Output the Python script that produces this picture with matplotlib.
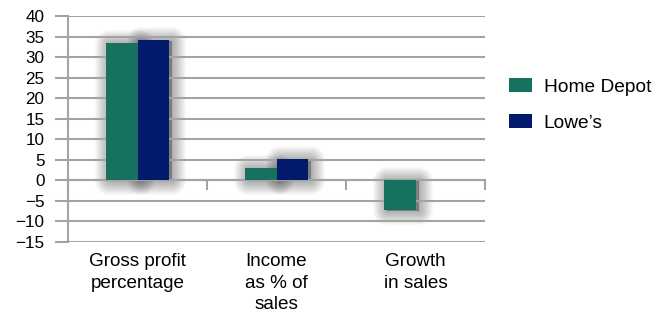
import numpy as np
import matplotlib
matplotlib.use("Agg")
import matplotlib.pyplot as plt
from matplotlib.patheffects import AbstractPathEffect
from matplotlib.transforms import Affine2D

categories = ["Gross profit\npercentage", "Income\nas % of\nsales", "Growth\nin sales"]
series_names = ["Home Depot", "Lowe\u2019s"]
home_depot = [33.5, 3.1, -7.2]
lowes = [34.2, 5.2, 0.0]
y_ticks = [40, 35, 30, 25, 20, 15, 10, 5, 0, -5, -10, -15]

colors = ["#177160", "#021a6c"]
grid_color = "#a3a3a3"

plt.rcParams['font.family'] = ['Liberation Sans', 'DejaVu Sans']


class SoftShadow(AbstractPathEffect):
    """Blurred drop shadow drawn as stacked translucent strokes (pixel units)."""

    def __init__(self, offset_px=(3, -1), radius_px=14, total_alpha=0.32):
        super().__init__(offset=(0, 0))
        self.offset_px = offset_px
        self.radius_px = radius_px
        self.total_alpha = total_alpha

    def draw_path(self, renderer, gc, tpath, affine, rgbFace=None):
        aff = affine + Affine2D().translate(*self.offset_px)
        n = self.radius_px
        a = self.total_alpha / n
        for r in range(1, n + 1):
            gc0 = renderer.new_gc()
            gc0.copy_properties(gc)
            gc0.set_linewidth(2 * r * 72.0 / renderer.dpi)
            gc0.set_foreground((0, 0, 0))
            gc0.set_alpha(a)
            gc0.set_joinstyle('round')
            renderer.draw_path(gc0, tpath, aff, (0, 0, 0, a))
            gc0.restore()


fig = plt.figure(figsize=(6.58, 3.2), dpi=100)
ax = fig.add_axes([68 / 658, 1 - 242 / 320, (485 - 68) / 658, (242 - 16) / 320])

x = np.arange(len(categories))
w = 0.23
bars = []
for k, (vals, c, name) in enumerate(zip([home_depot, lowes], colors, series_names)):
    pos = x + (k - 0.5) * w
    sh = ax.bar(pos, vals, width=w, color='k', label='_nolegend_', zorder=1.5, linewidth=0)
    for p, v in zip(sh.patches, vals):
        if v != 0:
            p.set_path_effects([SoftShadow()])
        else:
            p.set_visible(False)
    b = ax.bar(pos, vals, width=w, color=c, label=name, zorder=3, linewidth=0)
    bars.append(b)

ax.set_xlim(-0.5, len(categories) - 0.5)
ax.set_ylim(-15, 40)
ax.set_yticks(y_ticks)
ax.yaxis.grid(True, color=grid_color, linewidth=1.5)
for gl in ax.get_ygridlines():
    gl.set_zorder(2)

for s in ['top', 'right']:
    ax.spines[s].set_visible(False)
ax.spines['left'].set_color(grid_color)
ax.spines['left'].set_linewidth(1.5)
ax.spines['left'].set_zorder(2)
ax.spines['bottom'].set_position(('data', 0))
ax.spines['bottom'].set_color(grid_color)
ax.spines['bottom'].set_linewidth(1.5)
ax.spines['bottom'].set_zorder(2)

ax.set_xticks(np.arange(len(categories) + 1) - 0.5)
ax.set_xticklabels([])
ax.tick_params(axis='x', direction='out', length=7.5, width=1.5, color=grid_color)
ax.tick_params(axis='y', direction='out', length=9.4, width=1.5, color=grid_color,
               labelsize=12.3, pad=7.5)

for i, cat in enumerate(categories):
    ax.annotate(cat, xy=(i, 0), xycoords=('data', 'axes fraction'),
                xytext=(0, -8), textcoords='offset points', ha='center', va='top',
                fontsize=13.6, linespacing=1.35)

leg = fig.legend(handles=[bars[0], bars[1]], labels=series_names, loc='center left',
                 bbox_to_anchor=(492 / 658, 1 - 105 / 320), frameon=False,
                 fontsize=13.8, handlelength=1.2, handleheight=0.75, handletextpad=0.6,
                 labelspacing=0.95)

fig.savefig("out.png", dpi=100)
